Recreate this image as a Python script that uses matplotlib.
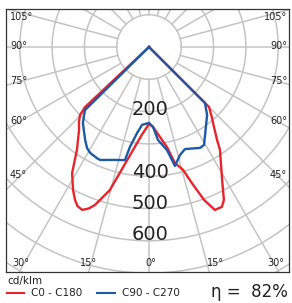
import numpy as np
import matplotlib
matplotlib.use("Agg")
import matplotlib.pyplot as plt
from matplotlib.lines import Line2D

# luminous intensity (cd/klm) against gamma angle (deg)
c0_gamma = [0, 2.9, 10.2, 12.6, 15.5, 17.5, 19.8, 22, 24.5, 26.1, 28.8, 31.4, 34.6, 36.2, 39.1, 42, 45, 90]
c0_int = [238, 248, 315, 368, 395, 442, 503, 544, 544, 527, 470, 428, 387, 357, 319, 290, 263, 0]
c180_gamma = [0, 4.7, 10.3, 15.3, 18.9, 20.5, 22.3, 24.2, 25.8, 28, 31.4, 35, 37.4, 40, 43, 45.4, 46.8, 90]
c180_int = [238, 273, 346, 459, 517, 534, 545, 540, 526, 501, 457, 389, 362, 337, 318, 300, 272, 0]
c90_gamma = [0, 2.9, 5.5, 9.9, 11.5, 12.3, 16, 19.4, 26.8, 29.3, 32.5, 40.5, 45, 90]
c90_int = [235, 248, 289, 324, 357, 377, 348, 335, 350, 348, 323, 277, 245, 0]
c270_gamma = [0, 5.1, 7.9, 10.8, 12, 16.7, 23.4, 25.1, 29.1, 31.5, 34.5, 41, 45.5, 90]
c270_int = [235, 242, 269, 315, 358, 365, 381, 380, 375, 367, 349, 312, 278, 0]

ring_labels = [200, 400, 500, 600]
side_labels = ["105°", "90°", "75°", "60°", "45°"]
bottom_labels = ["30°", "15°", "0°", "15°", "30°"]
efficiency = 82

W, H = 292, 303
red = "#e8232a"
blue = "#1a5aa8"
grid = "#c4c4c4"
txt = "#222222"


def fx(x):
    return x / W


def fy(y):
    return 1 - y / H


def polar_xy(gamma, inten, side):
    g = np.radians(gamma)
    inten = np.asarray(inten, dtype=float)
    return side * inten * np.sin(g), -inten * np.cos(g)


fig = plt.figure(figsize=(W / 100, H / 100), dpi=100)
ax = fig.add_axes([fx(6), fy(272), 283 / W, 263 / H])
s = 100 / 32.3  # cd/klm per pixel
cx, cy = 149, 47
ax.set_xlim((6 - cx) * s, (289 - cx) * s)
ax.set_ylim(-(272 - cy) * s, (cy - 9) * s)
ax.set_xticks([])
ax.set_yticks([])
for sp in ax.spines.values():
    sp.set_color("#333333")
    sp.set_linewidth(0.9)

# grid: rings every 100 cd/klm, spokes every 15 deg
t = np.linspace(0, 2 * np.pi, 400)
for r in range(100, 1000, 100):
    ax.plot(r * np.cos(t), r * np.sin(t), color=grid, lw=1.1, zorder=1)
for a in range(0, 360, 15):
    ar = np.radians(a)
    ax.plot([100 * np.sin(ar), 1500 * np.sin(ar)], [-100 * np.cos(ar), -1500 * np.cos(ar)],
            color=grid, lw=1.1, zorder=1)

# curves
lx, ly = polar_xy(c180_gamma[::-1], c180_int[::-1], -1)
rx, ry = polar_xy(c0_gamma, c0_int, 1)
ax.plot(np.r_[lx, rx], np.r_[ly, ry], color=red, lw=1.7, zorder=3, solid_joinstyle="round")
lx, ly = polar_xy(c270_gamma[::-1], c270_int[::-1], -1)
rx, ry = polar_xy(c90_gamma, c90_int, 1)
ax.plot(np.r_[lx, rx], np.r_[ly, ry], color=blue, lw=1.7, zorder=4, solid_joinstyle="round")

# ring value labels
for lab, ypx in zip(ring_labels, [110, 172, 203.5, 235]):
    fig.text(fx(150), fy(ypx), str(lab), ha="center", va="center", fontsize=14, color=txt)

# angle labels
for lab, ypx in zip(side_labels, [16.5, 46, 81, 121, 175]):
    fig.text(fx(10), fy(ypx), lab, ha="left", va="center", fontsize=7, color=txt)
    fig.text(fx(287), fy(ypx), lab, ha="right", va="center", fontsize=7, color=txt)
for lab, xpx in zip(bottom_labels, [21, 89, 151, 216, 276]):
    fig.text(fx(xpx), fy(263.5), lab, ha="center", va="center", fontsize=7, color=txt)

# legend
fig.text(fx(7), fy(281), "cd/klm", ha="left", va="center", fontsize=7.5, color=txt)
fig.add_artist(Line2D([fx(7), fx(24)], [fy(293), fy(293)], color=red, lw=1.5))
fig.text(fx(31), fy(293), "C0 - C180", ha="left", va="center", fontsize=7.5, color=txt)
fig.add_artist(Line2D([fx(97), fx(115)], [fy(293), fy(293)], color=blue, lw=1.5))
fig.text(fx(122), fy(293), "C90 - C270", ha="left", va="center", fontsize=7.5, color=txt)
fig.text(fx(288), fy(292), "η =  %d%%" % efficiency, ha="right", va="center", fontsize=12, color=txt)

fig.savefig("out.png", dpi=100)
